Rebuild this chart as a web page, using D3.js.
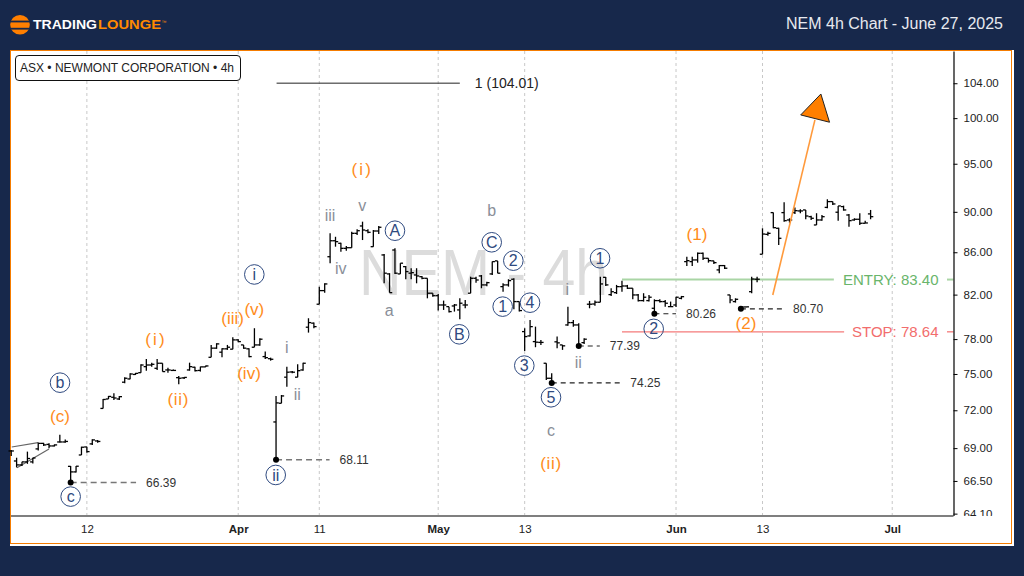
<!DOCTYPE html>
<html>
<head>
<meta charset="utf-8">
<title>NEM 4h Chart</title>
<script src="https://cdn.jsdelivr.net/npm/d3@7/dist/d3.min.js"></script>
<style>
  html, body { margin: 0; padding: 0; background: #17284b; overflow: hidden; }
  svg { display: block; font-family: "Liberation Sans", Arial, sans-serif; }
</style>
</head>
<body>
<div id="chart"></div>
<script>
// Each bar is one 4h slot, array index = slot number on the x axis
const opens = [68.78,68.01,67.71,67.94,67.94,68.94,69.37,69.29,69.17,69.48,69.48,67.60,67.18,68.47,69.09,69.33,69.56,72.15,72.92,73.06,
  72.92,74.31,74.58,74.96,75.11,75.62,75.76,75.48,75.91,75.34,75.30,74.69,74.67,75.34,75.57,75.30,75.60,76.42,77.21,76.86,
  77.15,77.12,77.93,77.49,77.15,77.29,77.49,76.48,76.30,71.06,72.57,74.73,75.17,74.73,75.34,79.05,79.41,81.12,82.37,85.57,
  87.12,86.87,86.38,86.44,87.85,88.58,88.11,86.54,88.08,85.74,83.93,86.22,83.93,84.62,84.00,83.83,83.67,83.52,82.13,81.90,
  81.05,80.90,80.96,80.60,81.05,82.13,83.52,83.74,82.90,83.93,85.17,82.74,82.90,83.43,81.36,78.66,78.28,77.78,77.71,75.91,
  74.64,77.76,77.49,79.25,79.46,79.25,77.69,81.12,81.14,81.30,83.61,82.00,82.18,82.74,82.80,82.59,81.97,81.45,81.45,80.75,
  81.45,81.36,80.90,81.05,81.66,85.10,85.10,85.26,85.90,85.42,85.17,84.31,84.72,81.97,81.36,80.75,80.87,82.27,83.43,85.81,
  87.75,89.92,88.35,89.92,89.18,89.92,90.09,90.19,89.51,88.68,89.18,90.45,91.04,89.96,90.53,89.68,89.18,89.25,88.85,89.79];
const highs = [68.86,68.26,67.96,68.73,68.26,69.43,69.41,69.38,69.29,70.04,69.68,67.63,67.63,69.11,69.11,69.69,69.64,72.92,73.17,73.39,
  73.17,74.73,75.06,75.09,75.82,76.28,75.96,76.28,75.91,75.53,75.38,74.83,74.75,75.96,75.62,75.62,75.72,77.49,77.64,77.21,
  77.49,78.17,77.99,77.49,77.21,78.96,78.08,76.91,76.39,73.17,73.25,75.62,75.26,75.82,75.96,79.85,79.46,82.73,83.05,87.85,
  87.51,86.93,86.60,88.01,88.25,89.01,88.25,88.18,88.58,85.84,84.00,86.38,84.95,84.69,84.47,84.47,83.74,83.52,82.13,82.06,
  81.45,80.90,81.14,81.66,81.51,83.67,83.67,83.83,83.20,85.10,85.17,83.05,83.43,83.52,81.36,78.96,79.70,79.10,77.93,75.91,
  75.06,78.22,77.49,80.90,79.70,79.41,78.08,81.42,81.45,83.67,83.64,82.59,82.90,83.30,82.90,82.59,82.06,82.13,81.97,81.57,
  81.57,81.51,81.36,81.81,81.88,85.57,85.57,85.98,85.98,85.42,85.19,84.78,84.78,81.97,81.66,80.90,80.90,83.67,83.67,88.35,
  88.01,89.92,88.41,90.98,89.35,90.45,90.26,90.19,89.61,89.86,89.68,91.28,91.04,90.60,90.63,89.79,89.35,89.86,89.11,90.19];
const lows = [68.40,67.52,67.63,67.79,67.82,68.81,69.17,68.99,69.13,69.43,69.41,66.39,67.14,68.47,68.65,69.25,69.41,72.15,72.92,72.84,
  72.84,74.22,74.56,74.92,75.11,75.28,75.62,75.34,75.20,75.11,75.26,74.14,74.58,75.28,75.20,75.20,75.60,76.42,77.15,76.42,
  77.06,77.12,77.73,77.15,76.42,77.29,77.41,76.28,76.13,68.11,72.57,73.93,75.06,74.73,75.28,78.57,78.96,81.12,82.18,84.95,
  86.54,86.06,86.15,86.44,87.68,87.19,87.85,86.54,87.78,83.05,82.18,83.93,83.93,83.43,83.43,83.05,83.43,81.66,81.81,80.54,
  80.60,80.36,80.45,79.76,80.75,82.13,83.11,82.59,82.78,83.83,84.00,82.27,82.74,80.66,80.45,76.97,78.22,77.29,77.49,74.50,
  74.25,77.21,77.06,79.17,79.10,77.39,77.58,80.75,80.99,81.30,82.80,81.88,82.06,82.27,82.52,81.57,81.36,81.36,81.36,80.26,
  81.27,80.90,80.87,80.87,81.57,84.69,84.69,85.00,85.26,85.00,84.88,84.00,84.40,81.21,81.27,80.70,80.84,82.13,83.15,85.81,
  87.61,88.35,86.70,89.01,88.91,89.79,89.86,89.25,89.18,88.68,89.11,90.36,90.70,89.11,90.12,88.51,89.11,88.68,88.85,89.25];
const closes = [68.78,67.71,67.94,68.20,68.24,69.37,69.25,69.17,69.25,69.48,69.52,67.18,67.61,69.07,68.73,69.64,69.52,72.88,73.13,73.00,
  73.11,74.64,75.00,75.05,75.76,75.76,75.82,75.91,75.20,75.34,75.30,74.64,74.71,75.62,75.28,75.60,75.68,77.21,77.58,77.15,
  77.29,77.93,77.78,77.21,76.48,77.49,77.99,76.39,76.25,72.60,73.17,75.15,75.15,75.28,75.91,79.46,79.10,82.37,82.99,87.12,
  87.03,86.38,86.44,87.85,88.11,88.18,87.95,88.08,88.45,84.00,82.18,84.00,84.95,84.15,84.05,83.74,83.52,82.13,81.90,81.05,
  81.05,80.45,81.05,81.21,81.05,83.52,83.36,82.90,83.11,85.10,84.00,82.90,83.30,81.36,80.54,78.22,79.10,77.73,77.71,74.64,
  74.25,77.67,77.41,79.46,79.25,77.49,77.99,81.12,81.30,82.99,82.90,82.27,82.74,82.80,82.59,81.97,81.45,81.76,81.76,81.45,
  81.36,81.21,80.90,81.76,81.81,85.19,85.26,85.90,85.42,85.19,85.00,84.72,84.47,81.51,81.57,80.87,80.88,83.45,83.43,87.78,
  87.85,88.41,87.36,89.11,89.18,90.12,90.09,89.58,89.35,89.18,89.51,91.04,90.80,90.60,90.19,89.11,89.25,88.85,88.88,89.51];

const priceTicks = [104, 100, 95, 90, 86, 82, 78, 75, 72, 69, 66.5, 64.1];
const dateSlots = [14, 42, 57, 79, 95, 123, 139, 163];
const dateLabels = ['12', 'Apr', '11', 'May', '13', 'Jun', '13', 'Jul'];
const monthLabels = ['Apr', 'May', 'Jun', 'Jul'];

// marked lows with a dashed leader
const levelSlots = [11, 49, 100, 105, 119, 135];
const levelPrices = [66.39, 68.11, 74.25, 77.39, 80.26, 80.70];
const levelEnds = [23.1, 58.9, 112.7, 108.9, 123, 142.8];

const entryPrice = 83.40;
const stopPrice = 78.64;
const targetPrice = 104.01;
const targetSlots = [49.1, 83];
const tradeStart = 113;
const entryEnd = 152.2;
const stopEnd = 154.1;

const arrowSlots = [140.9, 148.7];
const arrowPrices = [81.97, 99.8];
const headSlots = [149.8, 146.07, 151.4];
const headPrices = [102.75, 100.36, 99.54];

const wedgeSlots = [[0.1, 4.96], [1.07, 7]];
const wedgePrices = [[69.09, 69.43], [67.5, 68.94]];

// wave labels
const orangeText = ['(i)', '(1)', '(2)', '(ii)', '(i)', '(ii)', '(c)', '(iii)', '(v)', '(iv)'];
const orangeSlots = [64.96, 126.88, 135.95, 99.87, 26.79, 30.92, 9.03, 40.98, 44.98, 44.0];
const orangePrices = [94.41, 87.75, 79.46, 67.86, 78.02, 72.90, 71.54, 79.91, 80.66, 75.06];

const circledText = ['b', 'c', 'i', 'ii', 'A', 'B', 'C', '2', '1', '4', '3', '5', '1', '2'];
const circledSlots = [9.03, 11.0, 44.98, 48.94, 71.0, 82.9, 88.9, 92.9, 90.93, 95.99, 94.93, 99.87, 108.94, 118.87];
const circledPrices = [74.27, 65.34, 83.88, 66.95, 88.11, 78.42, 86.97, 85.19, 80.90, 81.26, 75.71, 73.06, 85.42, 78.90];

const grayText = ['iii', 'iv', 'v', 'a', 'b', 'c', 'i', 'ii', 'i', 'ii'];
const graySlots = [58.98, 60.96, 64.96, 69.95, 88.9, 99.87, 102.89, 104.92, 50.97, 52.93];
const grayPrices = [89.68, 84.47, 90.70, 80.60, 90.12, 70.35, 82.52, 76.0, 77.29, 73.31];

const navy = '#17284b';
const orange = '#ff8c1a';
const width = 1024;
const height = 576;
const plotTop = 51;
const plotBottom = 516;
const plotRight = 953.5;

const svg = d3.select('#chart').append('svg')
  .attr('width', width)
  .attr('height', height);

svg.append('rect').attr('width', width).attr('height', height).attr('fill', navy);
svg.append('rect').attr('x', 10).attr('y', 50).attr('width', 1004).attr('height', 496).attr('fill', '#fff');
svg.append('rect').attr('x', 10.5).attr('y', 50.5).attr('width', 1001).attr('height', 493)
  .attr('fill', 'none').attr('stroke', '#f57c00').attr('stroke-width', 1);

const x = d3.scaleLinear().domain([0, 159]).range([11.2, 870.6]);
const y = d3.scaleLog().domain([63.93, 107.84]).range([plotBottom, plotTop]);

// header
svg.append('circle').attr('cx', 20).attr('cy', 24.7).attr('r', 9.8).attr('fill', '#ff7f00');
[20.6, 27.8].forEach(v => {
  svg.append('rect').attr('x', 10).attr('y', v).attr('width', 20).attr('height', 1.8).attr('fill', navy);
});
svg.append('text').attr('x', 33).attr('y', 29).attr('font-size', 12).attr('font-weight', 700)
  .attr('fill', '#fff').attr('textLength', 64).attr('lengthAdjust', 'spacingAndGlyphs').text('TRADING');
svg.append('text').attr('x', 98).attr('y', 29).attr('font-size', 12).attr('font-weight', 700)
  .attr('fill', '#ff8a00').attr('textLength', 63).attr('lengthAdjust', 'spacingAndGlyphs').text('LOUNGE');
svg.append('text').attr('x', 161.5).attr('y', 24).attr('font-size', 5).attr('fill', '#ff8a00').text('™');
svg.append('text').attr('x', 1003).attr('y', 29).attr('text-anchor', 'end').attr('font-size', 16)
  .attr('fill', '#e8eaf0').text('NEM 4h Chart - June 27, 2025');

// vertical grid
svg.append('g').selectAll('line').data(dateSlots).join('line')
  .attr('x1', d => x(d)).attr('x2', d => x(d))
  .attr('y1', plotTop).attr('y2', plotBottom - 1)
  .attr('stroke', '#c8c8c8').attr('stroke-width', 1).attr('stroke-dasharray', '3,3');

// watermark
svg.append('text').attr('x', 359).attr('y', 295).attr('font-size', 65).attr('fill', '#dcdcdc')
  .attr('textLength', 249).attr('lengthAdjust', 'spacingAndGlyphs').text('NEM - 4h');

// symbol box
svg.append('rect').attr('x', 15.5).attr('y', 55.5).attr('width', 225).attr('height', 25).attr('rx', 3.5)
  .attr('fill', '#fff').attr('stroke', '#111').attr('stroke-width', 1);
svg.append('text').attr('x', 20).attr('y', 72).attr('font-size', 12).attr('fill', '#222')
  .text('ASX • NEWMONT CORPORATION • 4h');

// target line
svg.append('line')
  .attr('x1', x(targetSlots[0])).attr('x2', x(targetSlots[1]))
  .attr('y1', y(targetPrice)).attr('y2', y(targetPrice))
  .attr('stroke', '#222').attr('stroke-width', 1);
svg.append('text').attr('x', x(targetSlots[1]) + 15).attr('y', y(targetPrice)).attr('dy', '0.35em')
  .attr('font-size', 14).attr('fill', '#222').text('1 (104.01)');

// entry and stop
function tradeLine(price, endSlot, color, lineColor, w, label) {
  const g = svg.append('g');
  g.append('line').attr('x1', x(tradeStart)).attr('x2', x(endSlot)).attr('y1', y(price)).attr('y2', y(price))
    .attr('stroke', lineColor).attr('stroke-width', w);
  g.append('line').attr('x1', 947).attr('x2', plotRight).attr('y1', y(price)).attr('y2', y(price))
    .attr('stroke', lineColor).attr('stroke-width', w);
  g.append('text').attr('x', 938.5).attr('y', y(price)).attr('dy', '0.35em').attr('text-anchor', 'end')
    .attr('font-size', 15).attr('fill', color).text(label);
}
tradeLine(entryPrice, entryEnd, '#69b56b', '#a9d5a5', 2, 'ENTRY: ' + entryPrice.toFixed(2));
tradeLine(stopPrice, stopEnd, '#f26d6d', '#f47a7a', 1.3, 'STOP: ' + stopPrice.toFixed(2));

// wedge
wedgeSlots.forEach((s, i) => {
  svg.append('line')
    .attr('x1', x(s[0])).attr('x2', x(s[1]))
    .attr('y1', y(wedgePrices[i][0])).attr('y2', y(wedgePrices[i][1]))
    .attr('stroke', '#666').attr('stroke-width', 1.2);
});

// OHLC bars
const bars = svg.append('g').attr('stroke', '#000').attr('stroke-width', 1.3);
bars.selectAll('line.hl').data(opens).join('line').attr('class', 'hl')
  .attr('x1', (d, i) => x(i)).attr('x2', (d, i) => x(i))
  .attr('y1', (d, i) => y(highs[i])).attr('y2', (d, i) => y(lows[i]));
bars.selectAll('line.open').data(opens).join('line').attr('class', 'open')
  .attr('x1', (d, i) => x(i) - 2.7).attr('x2', (d, i) => x(i))
  .attr('y1', d => y(d)).attr('y2', d => y(d));
bars.selectAll('line.close').data(closes).join('line').attr('class', 'close')
  .attr('x1', (d, i) => x(i)).attr('x2', (d, i) => x(i) + 2.7)
  .attr('y1', d => y(d)).attr('y2', d => y(d));

// marked lows
levelSlots.forEach((s, i) => {
  const gray = i < 2;
  svg.append('line')
    .attr('x1', x(s)).attr('x2', x(levelEnds[i]))
    .attr('y1', y(levelPrices[i])).attr('y2', y(levelPrices[i]))
    .attr('stroke', gray ? '#777' : '#222')
    .attr('stroke-width', gray ? 1.5 : 1.1)
    .attr('stroke-dasharray', gray ? '6,4' : '5,4');
  svg.append('circle').attr('cx', x(s)).attr('cy', y(levelPrices[i])).attr('r', 3).attr('fill', '#000');
  svg.append('text').attr('x', x(levelEnds[i]) + 10).attr('y', y(levelPrices[i])).attr('dy', '0.35em')
    .attr('font-size', 12).attr('fill', '#333').text(levelPrices[i].toFixed(2));
});

// wave labels
function waveLabels(texts, slots, prices, color, size) {
  return svg.append('g').selectAll('text').data(texts).join('text')
    .attr('x', (d, i) => x(slots[i])).attr('y', (d, i) => y(prices[i])).attr('dy', '0.35em')
    .attr('text-anchor', 'middle').attr('font-size', size).attr('fill', color)
    .text(d => d);
}
// the source spaces its thin orange labels out
waveLabels(orangeText, orangeSlots, orangePrices, orange, 17)
  .attr('letter-spacing', d => d === '(i)' ? 2.2 : d === '(ii)' ? 0.7 : 0);
waveLabels(grayText, graySlots, grayPrices, '#8a8f99', 16);
svg.append('g').selectAll('circle').data(circledText).join('circle')
  .attr('cx', (d, i) => x(circledSlots[i])).attr('cy', (d, i) => y(circledPrices[i])).attr('r', 9.8)
  .attr('fill', 'none').attr('stroke', '#2f4a80').attr('stroke-width', 1);
waveLabels(circledText, circledSlots, circledPrices, '#2f4a80', 16);

// projection arrow
svg.append('line')
  .attr('x1', x(arrowSlots[0])).attr('x2', x(arrowSlots[1]))
  .attr('y1', y(arrowPrices[0])).attr('y2', y(arrowPrices[1]))
  .attr('stroke', '#ff9a3c').attr('stroke-width', 1.6);
svg.append('polygon')
  .attr('points', headSlots.map((s, i) => x(s) + ',' + y(headPrices[i])).join(' '))
  .attr('fill', '#ff7f00').attr('stroke', '#222').attr('stroke-width', 1);

// axes, lowest price label is cut off by the time axis as in the source chart
svg.append('clipPath').attr('id', 'axis-clip')
  .append('rect').attr('x', plotRight - 1).attr('y', plotTop).attr('width', 55).attr('height', plotBottom - plotTop);

const yAxis = svg.append('g').attr('clip-path', 'url(#axis-clip)').append('g')
  .attr('transform', `translate(${plotRight},0)`)
  .call(d3.axisRight(y).tickValues(priceTicks).tickFormat(d3.format('.2f'))
    .tickSizeInner(4).tickSizeOuter(0).tickPadding(6));
yAxis.selectAll('.tick text').attr('font-size', 11.5).attr('font-family', 'Liberation Sans').attr('fill', '#222');
yAxis.select('.domain').attr('stroke', '#000').attr('stroke-width', 1.2);
yAxis.selectAll('.tick line').attr('stroke', '#000');

const xAxis = svg.append('g')
  .attr('transform', `translate(0,${plotBottom})`)
  .call(d3.axisBottom(x).tickValues(dateSlots).tickSize(0).tickPadding(9)
    .tickFormat((d, i) => dateLabels[i]));
xAxis.select('.domain').attr('d', `M11,0H${plotRight}`).attr('stroke', '#000').attr('stroke-width', 1.2);
xAxis.selectAll('.tick text').attr('font-size', 11.5).attr('font-family', 'Liberation Sans').attr('fill', '#222')
  .attr('font-weight', d => monthLabels.includes(dateLabels[dateSlots.indexOf(d)]) ? 700 : 400);
</script>
</body>
</html>
